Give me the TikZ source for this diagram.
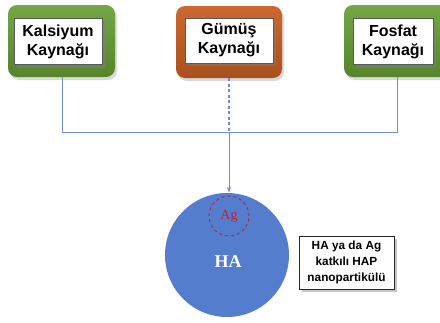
\documentclass[tikz,border=0pt]{standalone}
\usepackage{fontspec}
\setmainfont{Liberation Serif}
\newfontfamily\arialb{Liberation Sans}
\usetikzlibrary{shadows,arrows.meta}
\definecolor{grn}{RGB}{114,168,70}
\definecolor{grndark}{RGB}{86,132,44}
\definecolor{org}{RGB}{204,104,48}
\definecolor{orgdark}{RGB}{170,80,30}
\definecolor{lineblue}{RGB}{110,140,210}
\definecolor{ballblue}{RGB}{84,125,205}
\definecolor{agred}{RGB}{190,30,60}
\tikzset{
  outerbox/.style={rounded corners=9pt, minimum width=#1, minimum height=72pt, inner sep=0pt,
    drop shadow={shadow xshift=2pt, shadow yshift=-3pt, opacity=0.3}},
  innerbox/.style={draw=gray!70!black, line width=0.6pt, fill=white, minimum width=#1, minimum height=46pt,
    inner sep=1pt, align=center, font=\arialb\bfseries\fontsize{16}{19}\selectfont,
    drop shadow={shadow xshift=2.5pt, shadow yshift=-3pt, opacity=0.45}},
  conn/.style={draw=lineblue, line width=0.9pt},
}
\begin{document}
\begin{tikzpicture}[x=1pt,y=-1pt]
\useasboundingbox (0,0) rectangle (440,322);
% source boxes
\node[outerbox=107pt, top color=grn, bottom color=grndark] (g1) at (61.5,41) {};
\node[innerbox=88pt] (w1) at (58,41.5) {Kalsiyum\\Kaynağı};
\node[outerbox=106pt, top color=org, bottom color=orgdark] (o1) at (229,42) {};
\node[innerbox=88pt, minimum height=45pt] (w2) at (229,40.5) {Gümüş\\Kaynağı};
\node[outerbox=106pt, top color=grn, bottom color=grndark] (g2) at (397,41) {};
\node[innerbox=80pt] (w3) at (393,41.5) {Fosfat\\Kaynağı};
% ball
\node[circle, fill=ballblue, minimum size=124pt, inner sep=0pt] (ball) at (227,255) {};
\node[text=white, font=\bfseries\fontsize{18}{20}\selectfont] (ha) at (228,262) {HA};
\node[circle, draw=agred, dashed, line width=0.9pt, minimum size=40pt, inner sep=0pt,
  text=agred, font=\fontsize{14}{16}\selectfont] (ag) at (229,216) {Ag};
% label
\node[draw=gray!30!black, line width=0.6pt, fill=white, minimum width=95pt, minimum height=53pt,
  align=center, inner sep=1pt, font=\arialb\bfseries\fontsize{11.8}{16}\selectfont,
  drop shadow={shadow xshift=2.5pt, shadow yshift=-3pt, opacity=0.45}] (lbl) at (346.5,262.5)
  {HA ya da Ag\\katkılı HAP\\nanopartikülü};
% connectors
\coordinate (jl) at (62,132);
\coordinate (jm) at (229,132);
\coordinate (jr) at (397,132);
\draw[conn] (g1.south -| jl) -- (jl) -- (jr) -- (g2.south -| jr);
\draw[conn, line width=1.1pt, dash pattern=on 3pt off 2.5pt] (o1.south) -- (jm);
\draw[conn, -{Stealth[length=6pt,width=4pt]}] (jm) -- (jm |- ball.north);
\end{tikzpicture}
\end{document}
